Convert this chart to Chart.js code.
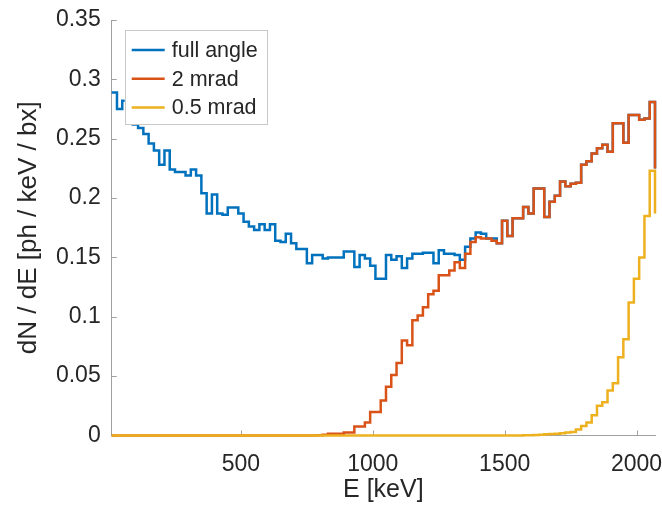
<!DOCTYPE html>
<html>
<head>
<meta charset="utf-8">
<script src="https://cdn.jsdelivr.net/npm/chart.js@4.4.1/dist/chart.umd.min.js"></script>
<style>
  html, body { margin: 0; padding: 0; background: #fff; }
</style>
</head>
<body>
<canvas id="spectrum-chart" width="662" height="507"></canvas>
<script>
// photon spectrum dN/dE, drawn as stairs

// bin edges [keV]
const energy = [
    10, 30, 50, 70, 90, 110, 130, 150, 170, 190,
    210, 230, 250, 270, 290, 310, 330, 350, 370, 390,
    410, 430, 450, 470, 490, 510, 530, 550, 570, 590,
    610, 630, 650, 670, 690, 710, 730, 750, 770, 790,
    810, 830, 850, 870, 890, 910, 930, 950, 970, 990,
    1010, 1030, 1050, 1070, 1090, 1110, 1130, 1150, 1170, 1190,
    1210, 1230, 1250, 1270, 1290, 1310, 1330, 1350, 1370, 1390,
    1410, 1430, 1450, 1470, 1490, 1510, 1530, 1550, 1570, 1590,
    1610, 1630, 1650, 1670, 1690, 1710, 1730, 1750, 1770, 1790,
    1810, 1830, 1850, 1870, 1890, 1910, 1930, 1950, 1970, 1990,
    2010, 2030, 2050, 2070
];

const fullAngle = [
    0.289, 0.275, 0.282, 0.270, 0.262, 0.259, 0.254, 0.246, 0.240, 0.228,
    0.240, 0.224, 0.222, 0.222, 0.219, 0.224, 0.219, 0.204, 0.187, 0.203,
    0.187, 0.186, 0.192, 0.192, 0.187, 0.180, 0.176, 0.173, 0.178, 0.173,
    0.178, 0.164, 0.163, 0.170, 0.162, 0.157, 0.157, 0.145, 0.152, 0.152,
    0.149, 0.150, 0.150, 0.150, 0.155, 0.155, 0.142, 0.152, 0.149, 0.143,
    0.132, 0.132, 0.152, 0.148, 0.151, 0.141, 0.149, 0.153, 0.153, 0.154,
    0.154, 0.145, 0.156, 0.153, 0.153, 0.152, 0.148, 0.159, 0.166, 0.171,
    0.170, 0.166, 0.166, 0.162, 0.181, 0.168, 0.183, 0.183, 0.1925, 0.187,
    0.208, 0.208, 0.184, 0.197, 0.202, 0.214, 0.210, 0.212, 0.213, 0.228,
    0.231, 0.2375, 0.242, 0.245, 0.239, 0.263, 0.263, 0.2465, 0.270, 0.270,
    0.266, 0.267, 0.281, 0.225
];

const mrad2 = [
    0, 0, 0, 0, 0, 0, 0, 0, 0, 0,
    0, 0, 0, 0, 0, 0, 0, 0, 0, 0,
    0, 0, 0, 0, 0, 0, 0, 0, 0, 0,
    0, 0, 0, 0, 0, 0, 0, 0, 0, 0.0003,
    0.0007, 0.0014, 0.0014, 0.0014, 0.0025, 0.0025, 0.0076, 0.0076, 0.011, 0.0197,
    0.0197, 0.0295, 0.041, 0.051, 0.061, 0.080, 0.076, 0.097, 0.101, 0.108,
    0.119, 0.122, 0.135, 0.135, 0.139, 0.146, 0.141, 0.153, 0.163, 0.167,
    0.166, 0.166, 0.164, 0.162, 0.181, 0.168, 0.183, 0.183, 0.1925, 0.187,
    0.208, 0.208, 0.184, 0.197, 0.202, 0.214, 0.210, 0.212, 0.213, 0.228,
    0.231, 0.2375, 0.242, 0.245, 0.239, 0.263, 0.263, 0.2465, 0.270, 0.270,
    0.266, 0.267, 0.281, 0.225
];

const mrad05 = [
    0, 0, 0, 0, 0, 0, 0, 0, 0, 0,
    0, 0, 0, 0, 0, 0, 0, 0, 0, 0,
    0, 0, 0, 0, 0, 0, 0, 0, 0, 0,
    0, 0, 0, 0, 0, 0, 0, 0, 0, 0,
    0, 0, 0, 0, 0, 0, 0, 0, 0, 0,
    0, 0, 0, 0, 0, 0, 0, 0, 0, 0,
    0, 0, 0, 0, 0, 0, 0, 0, 0, 0,
    0, 0, 0, 0, 0, 0, 0, 0, 0.0002, 0.0003,
    0.0005, 0.0007, 0.001, 0.0012, 0.0015, 0.002, 0.0025, 0.003, 0.005, 0.008,
    0.011, 0.017, 0.025, 0.028, 0.038, 0.044, 0.066, 0.081, 0.112, 0.132,
    0.150, 0.185, 0.223, 0.187
];

const seriesLabels = ['full angle', '2 mrad', '0.5 mrad'];
const seriesColors = ['#0072BD', '#D95319', '#EDB120'];

const xTicks = [500, 1000, 1500, 2000];
const yTicks = [0, 0.05, 0.1, 0.15, 0.2, 0.25, 0.3, 0.35];

const FONT = "'Liberation Sans', Arial, Helvetica, sans-serif";
const TEXT = '#262626';
const AXIS = '#a0a0a0';

function points(ys) {
    return energy.map((e, i) => ({ x: e, y: ys[i] }));
}

function stairs(label, ys, color, order) {
    return {
        label: label,
        data: points(ys),
        borderColor: color,
        backgroundColor: color,
        borderWidth: 2.5,
        stepped: true,
        pointRadius: 0,
        fill: false,
        clip: false,
        order: order,
    };
}

// small inward tick marks, matlab style
const tickMarks = {
    id: 'tickMarks',
    beforeDatasetsDraw(chart) {
        const ctx = chart.ctx;
        const a = chart.chartArea;
        const xs = chart.scales.x, ys = chart.scales.y;
        ctx.save();
        ctx.strokeStyle = AXIS;
        ctx.lineWidth = 1;
        ctx.beginPath();
        xTicks.forEach(v => {
            const px = Math.round(xs.getPixelForValue(v)) + 0.5;
            ctx.moveTo(px, a.bottom);
            ctx.lineTo(px, a.bottom - 5);
        });
        yTicks.forEach(v => {
            const py = Math.round(ys.getPixelForValue(v)) + 0.5;
            ctx.moveTo(a.left, py);
            ctx.lineTo(a.left + 5, py);
        });
        ctx.stroke();
        ctx.restore();
    }
};

// legend box in the upper left corner of the axes
const boxLegend = {
    id: 'boxLegend',
    afterDraw(chart) {
        const ctx = chart.ctx;
        const a = chart.chartArea;
        const x0 = a.left + 13, y0 = 30, w = 142, h = 94;
        ctx.save();
        ctx.fillStyle = '#fff';
        ctx.fillRect(x0, y0, w, h);
        ctx.strokeStyle = '#c8c8c8';
        ctx.lineWidth = 1;
        ctx.strokeRect(Math.round(x0) + 0.5, y0 + 0.5, w, h);
        ctx.font = '21.5px ' + FONT;
        ctx.textBaseline = 'middle';
        ctx.textAlign = 'left';
        chart.data.datasets.forEach((ds, i) => {
            const y = y0 + 20 + i * 28.7;
            ctx.strokeStyle = ds.borderColor;
            ctx.lineWidth = 2.5;
            ctx.beginPath();
            ctx.moveTo(x0 + 7, y);
            ctx.lineTo(x0 + 40, y);
            ctx.stroke();
            ctx.fillStyle = TEXT;
            ctx.fillText(ds.label, x0 + 47, y + 1);
        });
        ctx.restore();
    }
};

const SPEC_Chart = document.getElementById('spectrum-chart');

const spectrumChart = new Chart(SPEC_Chart, {
    type: 'line',
    data: {
        datasets: [
            stairs(seriesLabels[0], fullAngle, seriesColors[0], 3),
            stairs(seriesLabels[1], mrad2, seriesColors[1], 2),
            stairs(seriesLabels[2], mrad05, seriesColors[2], 1),
        ],
    },
    options: {
        responsive: false,
        animation: false,
        devicePixelRatio: 1,
        layout: {
            padding: { top: 20, right: 7, left: 0, bottom: 0 }
        },
        plugins: {
            legend: { display: false },
            tooltip: { enabled: false },
        },
        scales: {
            x: {
                type: 'linear',
                min: 10,
                max: 2070,
                afterBuildTicks: s => { s.ticks = xTicks.map(v => ({ value: v })); },
                afterFit: s => {
                    s.height = 71.5;
                    s.paddingLeft = 0;
                    s.paddingRight = 0;
                },
                ticks: {
                    callback: v => String(v),
                    font: { family: FONT, size: 23 },
                    color: TEXT,
                    maxRotation: 0,
                    padding: 15,
                },
                grid: { display: false, drawTicks: false },
                border: { display: true, color: AXIS, width: 1 },
                title: {
                    display: true,
                    text: 'E [keV]',
                    font: { family: FONT, size: 25 },
                    color: TEXT,
                    padding: { top: 0, bottom: 2 },
                },
            },
            y: {
                min: 0,
                max: 0.35,
                afterBuildTicks: s => { s.ticks = yTicks.map(v => ({ value: v })); },
                afterFit: s => {
                    s.width = 111.7;
                    s.paddingTop = 0;
                    s.paddingBottom = 0;
                },
                ticks: {
                    callback: v => String(v),
                    font: { family: FONT, size: 23 },
                    color: TEXT,
                    padding: 11,
                },
                grid: { display: false, drawTicks: false },
                border: { display: true, color: AXIS, width: 1 },
                title: {
                    display: true,
                    text: 'dN / dE [ph / keV / bx]',
                    font: { family: FONT, size: 26 },
                    color: TEXT,
                    padding: { top: 13, bottom: 0 },
                },
            },
        },
    },
    plugins: [tickMarks, boxLegend],
});
</script>
</body>
</html>
